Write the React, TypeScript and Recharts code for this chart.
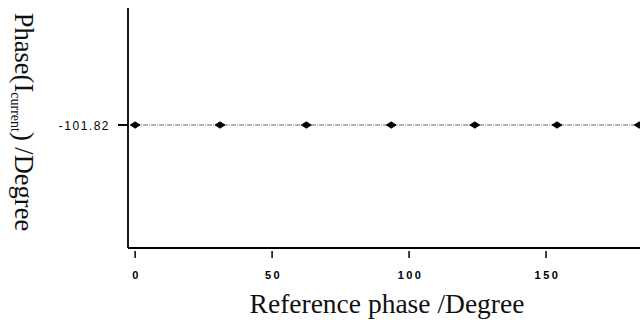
import React from "react";
import { LineChart, Line, XAxis, YAxis } from "recharts";

const refPhase = [0, 31, 62.5, 93.5, 124, 154, 184];
const currentPhase = [-101.82, -101.82, -101.82, -101.82, -101.82, -101.82, -101.82];
const xTicks = [0, 50, 100, 150];
const yTicks = [-101.82];

const data = refPhase.map((x, i) => ({ x, y: currentPhase[i] }));

const Dot = (props: any) => {
  const { cx, cy } = props;
  if (cx == null || cy == null) return null;
  return (
    <path
      d={`M${cx - 5},${cy} L${cx},${cy - 3.2} L${cx + 5},${cy} L${cx},${cy + 3.2} Z`}
      fill="#000"
      stroke="#000"
      strokeWidth={0.8}
    />
  );
};

const XTick = (props: any) => {
  const { x, y, payload } = props;
  return (
    <g>
      <line x1={x} x2={x} y1={y - 7} y2={y} stroke="#000" strokeWidth={1.5} />
      <text
        x={x + 1.5}
        y={y + 20.5}
        textAnchor="middle"
        fontFamily="Liberation Sans, Arial, sans-serif"
        fontSize={11}
        fontWeight={600}
        letterSpacing={2.5}
        fill="#000"
      >
        {payload.value}
      </text>
    </g>
  );
};

const YTick = (props: any) => {
  const { x, y, payload } = props;
  return (
    <text
      x={x + 1}
      y={y + 4.5}
      textAnchor="end"
      fontFamily="Liberation Sans, Arial, sans-serif"
      fontSize={12}
      letterSpacing={1.5}
      fill="#000"
    >
      {payload.value.toFixed(2)}
    </text>
  );
};

const XTitle = (props: any) => {
  const vb = props.viewBox || {};
  return (
    <text
      x={vb.x + vb.width / 2 + 3}
      y={vb.y + 65}
      textAnchor="middle"
      fontFamily="Liberation Serif, Times New Roman, serif"
      fontSize={27.5}
      fill="#111"
    >
      Reference phase /Degree
    </text>
  );
};

const YTitle = (props: any) => {
  const vb = props.viewBox || {};
  const cx = vb.x + 15;
  const cy = vb.y + vb.height / 2 - 6;
  return (
    <text
      x={cx}
      y={cy}
      transform={`rotate(90, ${cx}, ${cy})`}
      textAnchor="middle"
      fontFamily="Liberation Serif, Times New Roman, serif"
      fontSize={26.5}
      fill="#111"
    >
      Phase(I
      <tspan fontSize={14} dy={4}>current</tspan>
      <tspan dy={-4}>) /Degree</tspan>
    </text>
  );
};

export default function App() {
  return (
    <div style={{ position: "absolute", left: 0, top: 0, width: 640, height: 320, background: "#fff" }}>
      <LineChart
        width={640}
        height={320}
        data={data}
        margin={{ top: 8, right: 0, left: 0, bottom: 0 }}
      >
        <XAxis
          dataKey="x"
          type="number"
          domain={[-2.6, 184.3]}
          allowDataOverflow
          ticks={xTicks}
          height={72}
          tickSize={10}
          tickMargin={0}
          tickLine={false}
          tick={<XTick />}
          axisLine={{ stroke: "#000", strokeWidth: 1.8 }}
          label={<XTitle />}
        />
        <YAxis
          dataKey="y"
          type="number"
          domain={[-101.8323, -101.8083]}
          allowDataOverflow
          ticks={yTicks}
          width={128}
          tickSize={10}
          tickMargin={9}
          tickLine={{ stroke: "#000", strokeWidth: 2 }}
          tick={<YTick />}
          axisLine={{ stroke: "#000", strokeWidth: 1.8 }}
          label={<YTitle />}
        />
        <Line
          dataKey="y"
          stroke="#666"
          strokeWidth={1}
          strokeDasharray="5 1 1 1"
          dot={<Dot />}
          activeDot={false}
          isAnimationActive={false}
        />
      </LineChart>
    </div>
  );
}
